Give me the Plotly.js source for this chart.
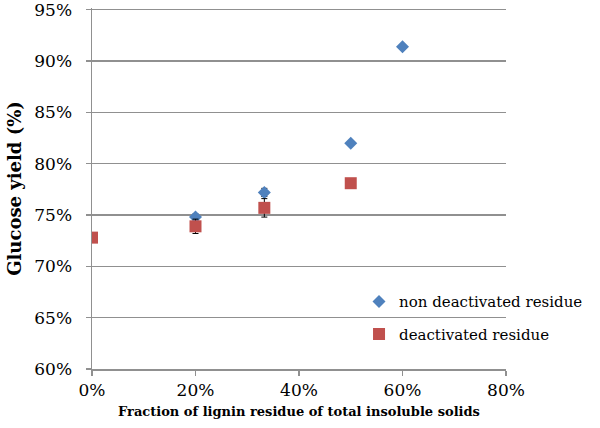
<!DOCTYPE html>
<html>
<head>
<meta charset="utf-8">
<script src="https://cdn.plot.ly/plotly-3.0.1.min.js"></script>
<style>html,body{margin:0;padding:0;background:#fff;}#chart{width:600px;height:428px;}</style>
</head>
<body>
<div id="chart"></div>
<script>
const nonDeactX = [0.20, 0.333, 0.50, 0.60];
const nonDeactY = [0.748, 0.772, 0.820, 0.914];
const nonDeactErr = [0.003, 0.004, 0, 0];
const deactX = [0.0, 0.20, 0.333, 0.50];
const deactY = [0.728, 0.739, 0.757, 0.781];
const deactErr = [0, 0.007, 0.009, 0];
const xTickVals = [0, 0.2, 0.4, 0.6, 0.8];
const yTickVals = [0.60, 0.65, 0.70, 0.75, 0.80, 0.85, 0.90, 0.95];

const serif = "DejaVu Serif, Liberation Serif, serif";
const traces = [
  {
    x: nonDeactX, y: nonDeactY, type: 'scatter', mode: 'markers',
    name: 'non deactivated residue', legendgroup: 'a',
    marker: {symbol: 'diamond', size: 10, color: '#4F81BD'},
    error_y: {type: 'data', array: nonDeactErr, visible: true, color: '#000', thickness: 1, width: 3}
  },
  {
    x: deactX, y: deactY, type: 'scatter', mode: 'markers',
    name: 'deactivated residue', legendgroup: 'b',
    marker: {symbol: 'square', size: 12, color: '#C0504D'},
    error_y: {type: 'data', array: deactErr, visible: true, color: '#000', thickness: 1, width: 3}
  }
];
const layout = {
  width: 600, height: 428,
  margin: {l: 92, r: 94, t: 8, b: 59},
  paper_bgcolor: '#fff', plot_bgcolor: '#fff',
  font: {family: serif, color: '#000', size: 16},
  showlegend: true,
  legend: {x: 0.645, y: 0.232, xanchor: 'left', yanchor: 'top',
           bgcolor: 'rgba(0,0,0,0)',
           traceorder: 'grouped', tracegroupgap: 10, font: {family: serif, size: 15},
           itemwidth: 30},
  xaxis: {
    range: [0, 0.8], tickvals: xTickVals, tickformat: '.0%',
    showgrid: false, zeroline: false, showline: true, linecolor: '#909090', linewidth: 1.5,
    ticks: 'outside', ticklen: 5, tickcolor: '#909090', tickwidth: 1.5,
    ticklabeloverflow: 'allow',
    tickfont: {family: serif, size: 17},
    title: {text: '<b>Fraction of lignin residue of total insoluble solids</b>', font: {family: serif, size: 13}, standoff: 8}
  },
  yaxis: {
    range: [0.60, 0.9517], tickvals: yTickVals, tickformat: '.0%',
    showgrid: true, gridcolor: '#909090', gridwidth: 1.5, zeroline: false,
    showline: true, linecolor: '#909090', linewidth: 1.5,
    ticks: 'outside', ticklen: 5, tickcolor: '#909090', tickwidth: 1.5, ticklabelstandoff: 10,
    ticklabeloverflow: 'allow',
    tickfont: {family: serif, size: 17},
    title: {text: '<b>Glucose yield (%)</b>', font: {family: serif, size: 18}, standoff: 8}
  }
};
Plotly.newPlot('chart', traces, layout, {displayModeBar: false, staticPlot: true});
</script>
</body>
</html>
